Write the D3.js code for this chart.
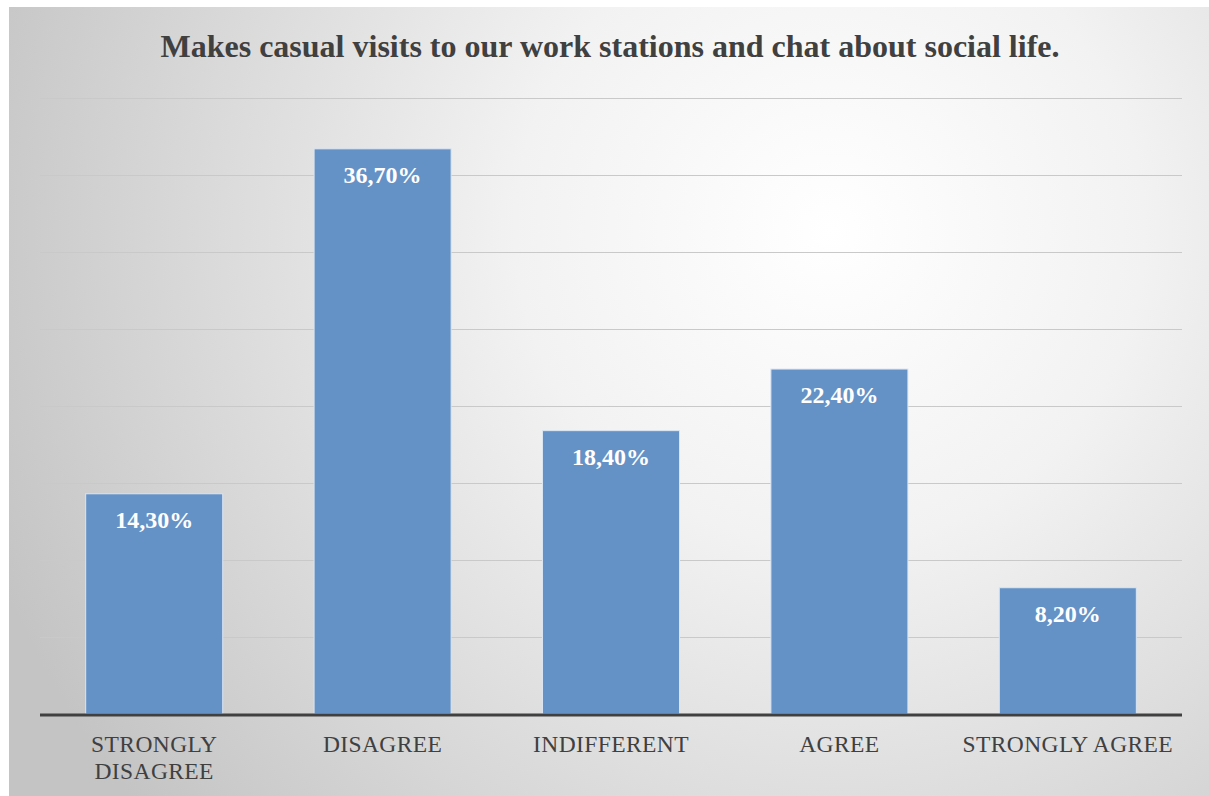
<!DOCTYPE html>
<html>
<head>
<meta charset="utf-8">
<script src="https://cdn.jsdelivr.net/npm/d3@7"></script>
<style>
  body { margin: 0; background: #fff; }
</style>
</head>
<body>
<div id="chart"></div>
<script>
// Données
const categories = ["STRONGLY DISAGREE", "DISAGREE", "INDIFFERENT", "AGREE", "STRONGLY AGREE"];
const categoryLines = [["STRONGLY", "DISAGREE"], ["DISAGREE"], ["INDIFFERENT"], ["AGREE"], ["STRONGLY AGREE"]];
const values = [14.3, 36.7, 18.4, 22.4, 8.2];
const valueLabels = ["14,30%", "36,70%", "18,40%", "22,40%", "8,20%"];
const gridTicks = [0, 5, 10, 15, 20, 25, 30, 35, 40];
const title = "Makes casual visits to our work stations and chat about social life.";

function createChart() {
    const W = 1209, H = 796;
    const frame = { x: 9, y: 7, w: 1200, h: 789 };
    const plot = { left: 40, right: 1182, top: 98, bottom: 714 };
    const serif = '"Liberation Serif", "Times New Roman", serif';

    const svg = d3.select("#chart")
        .append("svg")
        .attr("width", W)
        .attr("height", H);

    // Fond dégradé
    const defs = svg.append("defs");
    const grad = defs.append("radialGradient")
        .attr("id", "bg")
        .attr("gradientUnits", "userSpaceOnUse")
        .attr("cx", 830).attr("cy", 230).attr("r", 900);
    grad.append("stop").attr("offset", "0%").attr("stop-color", "#ffffff");
    grad.append("stop").attr("offset", "35%").attr("stop-color", "#f2f2f2");
    grad.append("stop").attr("offset", "100%").attr("stop-color", "#c4c4c4");

    svg.append("rect")
        .attr("x", frame.x).attr("y", frame.y)
        .attr("width", frame.w).attr("height", frame.h)
        .attr("fill", "url(#bg)");

    // Échelles
    const x = d3.scaleBand()
        .domain(categories)
        .range([plot.left, plot.right])
        .paddingInner(0.4)
        .paddingOuter(0.2);

    const y = d3.scaleLinear()
        .domain([0, 40])
        .range([plot.bottom, plot.top]);

    // Grille
    svg.append("g")
        .selectAll("line")
        .data(gridTicks.filter(d => d > 0))
        .enter()
        .append("line")
        .attr("x1", plot.left)
        .attr("x2", plot.right)
        .attr("y1", d => y(d) + 0.5)
        .attr("y2", d => y(d) + 0.5)
        .attr("stroke", "#c9c9c9")
        .attr("stroke-width", 1.2);

    // Barres
    svg.selectAll(".bar")
        .data(values)
        .enter()
        .append("rect")
        .attr("x", (d, i) => x(categories[i]))
        .attr("y", d => y(d))
        .attr("width", x.bandwidth())
        .attr("height", d => y(0) - y(d))
        .attr("fill", "#6592c6")
        .attr("stroke", "#dce6f2")
        .attr("stroke-width", 1);

    // Ligne de base
    svg.append("line")
        .attr("x1", plot.left)
        .attr("x2", plot.right)
        .attr("y1", y(0) + 1)
        .attr("y2", y(0) + 1)
        .attr("stroke", "#404040")
        .attr("stroke-width", 3);

    // Étiquettes de valeurs
    svg.selectAll(".bar-label")
        .data(values)
        .enter()
        .append("text")
        .attr("x", (d, i) => x(categories[i]) + x.bandwidth() / 2)
        .attr("y", d => y(d) + 34)
        .attr("text-anchor", "middle")
        .attr("fill", "#ffffff")
        .attr("font-family", serif)
        .attr("font-size", 24)
        .attr("font-weight", "bold")
        .text((d, i) => valueLabels[i]);

    // Catégories
    const cat = svg.selectAll(".cat")
        .data(categories)
        .enter()
        .append("text")
        .attr("x", d => x(d) + x.bandwidth() / 2)
        .attr("y", 752)
        .attr("text-anchor", "middle")
        .attr("fill", "#404040")
        .attr("font-family", serif)
        .attr("font-size", 23.5)
        .attr("letter-spacing", 0.4);
    cat.each(function(d, i) {
        d3.select(this).selectAll("tspan")
            .data(categoryLines[i])
            .enter()
            .append("tspan")
            .attr("x", x(d) + x.bandwidth() / 2)
            .attr("dy", (l, j) => j === 0 ? 0 : 27)
            .text(l => l);
    });

    // Titre
    svg.append("text")
        .attr("x", 610)
        .attr("y", 57)
        .attr("text-anchor", "middle")
        .attr("fill", "#404040")
        .attr("font-family", serif)
        .attr("font-size", 32)
        .attr("font-weight", "bold")
        .text(title);
}

createChart();
</script>
</body>
</html>
